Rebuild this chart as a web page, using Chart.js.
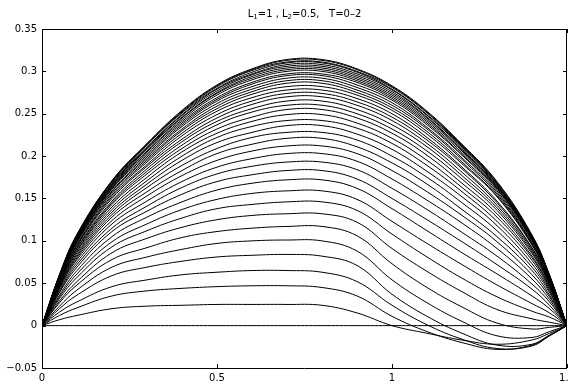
<!DOCTYPE html>
<html>
<head>
<meta charset="utf-8">
<script src="https://cdn.jsdelivr.net/npm/chart.js@4.4.0/dist/chart.umd.min.js"></script>
<style>
  html, body { margin: 0; padding: 0; background: #fff; overflow: hidden; }
  #wrap { width: 569px; height: 384px; overflow: hidden; position: relative; }
  #wrap canvas { position: absolute; left: 0; top: 0; }
</style>
</head>
<body>
<div id="wrap"><canvas id="profiles" width="579" height="384"></canvas></div>
<script>
// sample positions along the bar (x), one profile per time step T = 0 .. 2
const xs = [0, 0.05, 0.1, 0.2, 0.3, 0.4, 0.5, 0.6, 0.7, 0.8, 0.9, 1.0, 1.1, 1.2, 1.3, 1.4, 1.45, 1.5];

const u00 = [0, 0, 0, 0, 0, 0, 0, 0, 0, 0, 0, 0, 0, 0, 0, 0, 0, 0];
const u01 = [0, .007, .012, .020, .023, .024, .025, .025, .025, .024, .015, .000, -.009, -.017, -.022, -.017, -.009, 0];
const u02 = [0, .012, .021, .035, .041, .044, .046, .047, .047, .045, .035, .011, -.007, -.020, -.028, -.023, -.012, 0];
const u03 = [0, .016, .028, .046, .054, .060, .063, .065, .065, .063, .052, .024, .001, -.016, -.027, -.024, -.012, 0];
const u04 = [0, .020, .036, .059, .069, .076, .081, .083, .084, .082, .071, .037, .011, -.009, -.023, -.022, -.011, 0];
const u05 = [0, .023, .042, .069, .081, .090, .097, .100, .101, .100, .088, .054, .027, .005, -.012, -.014, -.007, 0];
const u06 = [0, .027, .048, .078, .092, .104, .111, .115, .117, .117, .106, .073, .045, .022, .003, -.004, -.002, 0];
const u07 = [0, .029, .052, .086, .103, .116, .125, .130, .132, .132, .122, .091, .064, .040, .019, .008, .004, 0];
const u08 = [0, .032, .057, .093, .112, .127, .138, .143, .146, .146, .136, .108, .081, .056, .034, .017, .010, 0];
const u09 = [0, .034, .061, .099, .120, .137, .149, .156, .159, .159, .149, .123, .097, .072, .048, .026, .015, 0];
const u10 = [0, .036, .065, .105, .128, .146, .160, .168, .172, .172, .162, .138, .112, .086, .061, .035, .020, 0];
const u11 = [0, .039, .069, .111, .135, .155, .170, .178, .183, .183, .173, .150, .125, .099, .072, .043, .024, 0];
const u12 = [0, .040, .072, .115, .141, .163, .179, .188, .193, .193, .184, .162, .137, .110, .082, .049, .028, 0];
const u13 = [0, .042, .075, .120, .147, .170, .187, .197, .203, .203, .194, .173, .148, .121, .091, .055, .031, 0];
const u14 = [0, .044, .078, .124, .153, .177, .195, .206, .212, .212, .203, .183, .158, .130, .099, .060, .034, 0];
const u15 = [0, .045, .080, .128, .158, .183, .203, .214, .221, .221, .211, .192, .167, .137, .105, .065, .036, 0];
const u16 = [0, .046, .082, .131, .163, .189, .209, .222, .228, .228, .219, .200, .175, .145, .112, .069, .039, 0];
const u17 = [0, .047, .084, .134, .167, .195, .216, .228, .236, .236, .226, .208, .182, .152, .118, .073, .041, 0];
const u18 = [0, .048, .086, .137, .171, .200, .222, .235, .242, .242, .233, .215, .189, .158, .123, .077, .043, 0];
const u19 = [0, .049, .088, .140, .175, .205, .227, .241, .249, .249, .239, .221, .195, .163, .128, .080, .045, 0];
const u20 = [0, .050, .089, .143, .179, .209, .232, .246, .255, .255, .245, .227, .201, .168, .132, .082, .046, 0];
const u21 = [0, .051, .091, .145, .182, .213, .237, .252, .260, .260, .250, .232, .206, .173, .136, .085, .048, 0];
const u22 = [0, .052, .092, .147, .185, .217, .241, .256, .265, .265, .255, .237, .211, .177, .139, .087, .049, 0];
const u23 = [0, .053, .094, .150, .188, .220, .245, .261, .270, .270, .260, .242, .215, .181, .142, .089, .050, 0];
const u24 = [0, .053, .095, .152, .190, .224, .249, .265, .274, .274, .264, .246, .219, .185, .145, .091, .051, 0];
const u25 = [0, .054, .096, .154, .193, .227, .253, .269, .278, .278, .268, .250, .222, .187, .147, .092, .052, 0];
const u26 = [0, .055, .098, .156, .195, .230, .256, .273, .282, .282, .272, .254, .226, .191, .152, .095, .053, 0];
const u27 = [0, .055, .099, .158, .197, .232, .259, .276, .286, .286, .275, .257, .229, .193, .153, .096, .054, 0];
const u28 = [0, .056, .100, .159, .199, .235, .262, .279, .289, .289, .278, .260, .232, .196, .155, .097, .054, 0];
const u29 = [0, .057, .101, .161, .201, .237, .265, .282, .292, .292, .281, .263, .234, .198, .157, .098, .055, 0];
const u30 = [0, .057, .101, .162, .203, .239, .267, .285, .295, .295, .284, .266, .237, .201, .159, .100, .056, 0];
const u31 = [0, .057, .102, .163, .205, .241, .269, .287, .297, .297, .287, .268, .239, .202, .161, .101, .057, 0];
const u32 = [0, .058, .103, .164, .206, .243, .272, .290, .300, .300, .289, .270, .241, .204, .162, .102, .057, 0];
const u33 = [0, .058, .104, .165, .208, .245, .274, .292, .302, .302, .291, .272, .243, .206, .163, .102, .057, 0];
const u34 = [0, .058, .104, .166, .209, .246, .275, .294, .304, .304, .293, .274, .245, .207, .164, .103, .058, 0];
const u35 = [0, .059, .105, .167, .210, .248, .277, .296, .306, .306, .295, .276, .246, .208, .165, .104, .058, 0];
const u36 = [0, .059, .106, .168, .211, .249, .279, .297, .308, .308, .297, .278, .248, .210, .166, .104, .058, 0];
const u37 = [0, .059, .106, .169, .213, .251, .280, .299, .310, .310, .299, .279, .249, .211, .167, .105, .059, 0];
const u38 = [0, .060, .107, .170, .214, .252, .282, .301, .311, .311, .300, .281, .251, .212, .168, .106, .059, 0];
const u39 = [0, .060, .107, .171, .214, .253, .283, .302, .313, .313, .302, .282, .252, .213, .169, .106, .059, 0];
const u40 = [0, .060, .108, .171, .215, .254, .284, .303, .314, .314, .303, .283, .253, .214, .170, .107, .060, 0];

const curves = [u00, u01, u02, u03, u04, u05, u06, u07, u08, u09, u10,
  u11, u12, u13, u14, u15, u16, u17, u18, u19, u20,
  u21, u22, u23, u24, u25, u26, u27, u28, u29, u30,
  u31, u32, u33, u34, u35, u36, u37, u38, u39, u40];

const xTicks = [0, 0.5, 1, 1.5];
const xTickLabels = ['0', '0.5', '1', '1.5'];
const yTicks = [-0.05, 0, 0.05, 0.1, 0.15, 0.2, 0.25, 0.3, 0.35];
const yTickLabels = ['\u22120.05', '0', '0.05', '0.1', '0.15', '0.2', '0.25', '0.3', '0.35'];

// title pieces, second field marks a subscript
const titleParts = [['L', 0], ['1', 1], ['=1 , L', 0], ['2', 1], ['=0.5,   T=0\u20132', 0]];

const FONT = '"DejaVu Sans", "Liberation Sans", Arial, sans-serif';

// matlab style box with inward ticks on all four sides
const boxPlugin = {
  id: 'box',
  afterDatasetsDraw(chart) {
    const { ctx, chartArea: a, scales: { x, y } } = chart;
    ctx.save();
    ctx.strokeStyle = '#000';
    ctx.lineWidth = 1;
    ctx.beginPath();
    ctx.moveTo(a.left + 0.5, a.top + 0.5);
    ctx.lineTo(a.right - 0.5, a.top + 0.5);
    ctx.lineTo(a.right - 0.5, a.bottom + 0.5);
    ctx.lineTo(a.left + 0.5, a.bottom + 0.5);
    ctx.closePath();
    xTicks.forEach(v => {
      const px = Math.round(x.getPixelForValue(v)) + 0.5;
      ctx.moveTo(px, a.bottom); ctx.lineTo(px, a.bottom - 4);
      ctx.moveTo(px, a.top); ctx.lineTo(px, a.top + 4);
    });
    yTicks.forEach(v => {
      const py = Math.round(y.getPixelForValue(v)) + 0.5;
      ctx.moveTo(a.left, py); ctx.lineTo(a.left + 4, py);
      ctx.moveTo(a.right, py); ctx.lineTo(a.right - 4, py);
    });
    ctx.stroke();
    ctx.restore();
  }
};

const titlePlugin = {
  id: 'subTitle',
  afterDraw(chart) {
    const { ctx, chartArea: a } = chart;
    ctx.save();
    ctx.fillStyle = '#000';
    ctx.textBaseline = 'alphabetic';
    const big = '10px ' + FONT, small = '7px ' + FONT;
    let w = 0;
    titleParts.forEach(([t, sub]) => { ctx.font = sub ? small : big; w += ctx.measureText(t).width; });
    let cx = (a.left + a.right) / 2 - w / 2;
    titleParts.forEach(([t, sub]) => {
      ctx.font = sub ? small : big;
      ctx.fillText(t, cx, sub ? 19 : 17);
      cx += ctx.measureText(t).width;
    });
    ctx.restore();
  }
};

new Chart(document.getElementById('profiles'), {
  type: 'line',
  data: {
    datasets: curves.map(c => ({
      data: c.map((v, i) => ({ x: xs[i], y: v })),
      borderColor: '#000',
      borderWidth: 1,
      pointRadius: 0,
      tension: 0.4,
      fill: false
    }))
  },
  options: {
    responsive: false,
    animation: false,
    events: [],
    layout: { padding: { top: 29, right: 12, bottom: 0, left: 0 } },
    plugins: { legend: { display: false }, title: { display: false }, tooltip: { enabled: false } },
    scales: {
      x: {
        type: 'linear', min: 0, max: 1.5,
        grid: { display: false, drawTicks: false },
        border: { display: false },
        afterBuildTicks: s => { s.ticks = xTicks.map(v => ({ value: v })); },
        afterFit: s => { s.height = 16; },
        ticks: {
          color: '#000', padding: 4, maxRotation: 0,
          font: { family: FONT, size: 10 },
          callback: (v, i) => xTickLabels[i]
        }
      },
      y: {
        min: -0.05, max: 0.35,
        grid: { display: false, drawTicks: false },
        border: { display: false },
        afterBuildTicks: s => { s.ticks = yTicks.map(v => ({ value: v })); },
        afterFit: s => { s.width = 42; },
        ticks: {
          color: '#000', padding: 5,
          font: { family: FONT, size: 10 },
          callback: (v, i) => yTickLabels[i]
        }
      }
    }
  },
  plugins: [boxPlugin, titlePlugin]
});
</script>
</body>
</html>
